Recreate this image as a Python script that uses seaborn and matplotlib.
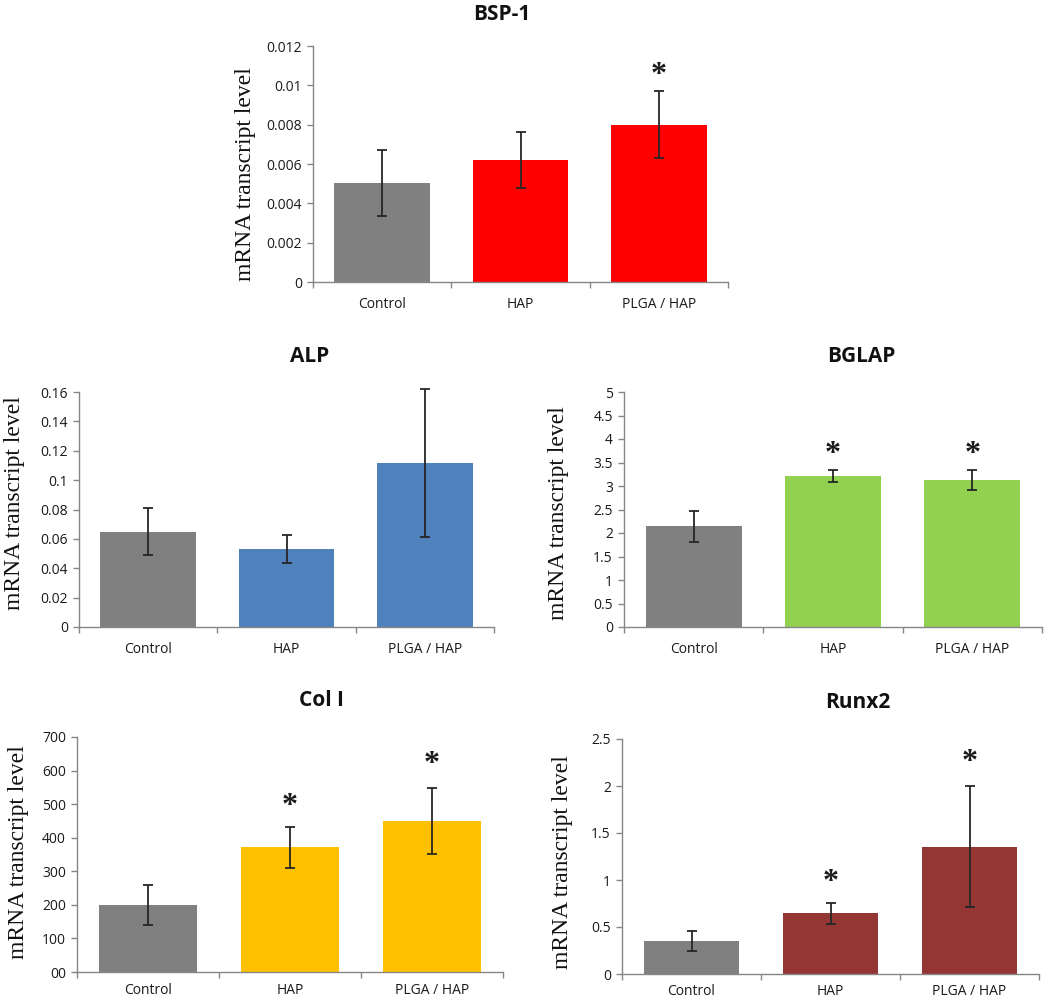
import matplotlib
matplotlib.use("Agg")
import matplotlib.pyplot as plt
import seaborn as sns

# groups on the x axis
categories = ["Control", "HAP", "PLGA / HAP"]

# BSP-1
bsp1_mean = [0.00503, 0.00619, 0.0080]
bsp1_err = [0.00168, 0.00143, 0.00171]
bsp1_stars = [None, None, 0.0108]
bsp1_ticks = [0, 0.002, 0.004, 0.006, 0.008, 0.01, 0.012]
bsp1_ticklabels = ["0", "0.002", "0.004", "0.006", "0.008", "0.01", "0.012"]

# ALP
alp_mean = [0.0647, 0.0533, 0.1117]
alp_err = [0.016, 0.0095, 0.0505]
alp_stars = [None, None, None]
alp_ticks = [0, 0.02, 0.04, 0.06, 0.08, 0.1, 0.12, 0.14, 0.16]
alp_ticklabels = ["0", "0.02", "0.04", "0.06", "0.08", "0.1", "0.12", "0.14", "0.16"]

# BGLAP
bglap_mean = [2.14, 3.206, 3.128]
bglap_err = [0.333, 0.13, 0.21]
bglap_stars = [None, 3.81, 3.81]
bglap_ticks = [0, 0.5, 1, 1.5, 2, 2.5, 3, 3.5, 4, 4.5, 5]
bglap_ticklabels = ["0", "0.5", "1", "1.5", "2", "2.5", "3", "3.5", "4", "4.5", "5"]

# Col I
col1_mean = [199, 372, 450]
col1_err = [59, 61, 99.5]
col1_stars = [None, 512, 636]
col1_ticks = [0, 100, 200, 300, 400, 500, 600, 700]
col1_ticklabels = ["00", "100", "200", "300", "400", "500", "600", "700"]

# Runx2
runx2_mean = [0.352, 0.646, 1.356]
runx2_err = [0.103, 0.11, 0.647]
runx2_stars = [None, 1.037, 2.315]
runx2_ticks = [0, 0.5, 1, 1.5, 2, 2.5]
runx2_ticklabels = ["0", "0.5", "1", "1.5", "2", "2.5"]

GRAY = "#808080"

sns.set_style("white")
plt.rcParams["font.family"] = ["Open Sans", "DejaVu Sans"]

W, H = 1050, 1002
fig = plt.figure(figsize=(W / 100, H / 100), dpi=100)


def px_box(left, top, right, bottom):
    return [left / W, 1 - bottom / H, (right - left) / W, (bottom - top) / H]


# (title, mean, err, stars, ticks, labels, colour, axes box px, title pos px, ylabel center px, x label pad)
panels = [
    ("BSP-1", bsp1_mean, bsp1_err, bsp1_stars, bsp1_ticks, bsp1_ticklabels,
     "#FF0000", (313, 46, 728, 282), (502, 14), (245, 174), 11),
    ("ALP", alp_mean, alp_err, alp_stars, alp_ticks, alp_ticklabels,
     "#4F81BD", (79, 392, 494, 627), (310, 356), (14, 503), 11),
    ("BGLAP", bglap_mean, bglap_err, bglap_stars, bglap_ticks, bglap_ticklabels,
     "#92D050", (624, 392, 1042, 627), (861, 356), (558, 513), 11),
    ("Col I", col1_mean, col1_err, col1_stars, col1_ticks, col1_ticklabels,
     "#FFC000", (77, 737, 503, 972), (321, 701), (18, 852), 8),
    ("Runx2", runx2_mean, runx2_err, runx2_stars, runx2_ticks, runx2_ticklabels,
     "#943634", (622, 739, 1039, 974), (858, 703), (562, 862), 7),
]

for title, mean, err, stars, ticks, labels, colour, box, tpos, ypos, xpad in panels:
    ax = fig.add_axes(px_box(*box))
    sns.barplot(x=categories, y=mean, hue=categories, palette=[GRAY, colour, colour],
                saturation=1, width=0.69, errorbar=None, legend=False,
                linewidth=0, ax=ax)
    xs = [p.get_x() + p.get_width() / 2 for p in ax.patches]
    eb = ax.errorbar(xs, mean, yerr=err, fmt="none", ecolor="#262626",
                     elinewidth=1.3, capsize=3.5, capthick=1.3)
    for art in eb.lines[1] + eb.lines[2]:
        art.set_clip_on(False)

    # significance stars
    for x, s in zip(xs, stars):
        if s is not None:
            ax.annotate("*", (x, s), xytext=(0, -10), textcoords="offset points",
                        ha="center", va="baseline", fontsize=23, fontweight="bold",
                        family="Liberation Serif", color="#1a1a1a")

    ax.set_xlim(-0.5, 2.5)
    ax.set_ylim(ticks[0], ticks[-1])
    ax.set_yticks(ticks)
    ax.set_yticklabels(labels)
    ax.set_xticks([0, 1, 2])
    ax.set_xticklabels(categories)
    ax.set_xticks([-0.5, 0.5, 1.5, 2.5], minor=True)
    ax.tick_params(axis="x", which="major", length=0, pad=xpad, labelsize=10,
                   labelcolor="#1a1a1a")
    ax.tick_params(axis="x", which="minor", length=4, width=1, color="#868686",
                   direction="out", bottom=True)
    ax.tick_params(axis="y", length=4, width=1, color="#868686", direction="out",
                   left=True, pad=4, labelsize=10, labelcolor="#1a1a1a")
    for side in ["top", "right"]:
        ax.spines[side].set_visible(False)
    for side in ["left", "bottom"]:
        ax.spines[side].set_color("#868686")
        ax.spines[side].set_linewidth(1)
    ax.set_xlabel("")

    ax.set_ylabel("mRNA transcript level", family="Liberation Serif", fontsize=17,
                  color="#111111")
    l, t, r, b = box
    ax.yaxis.set_label_coords((ypos[0] + 11 - l) / (r - l), (b - ypos[1]) / (b - t))

    fig.text(tpos[0] / W, 1 - tpos[1] / H, title, ha="center", va="center",
             fontsize=15, fontweight="bold", color="#111111")

fig.savefig("out.png", dpi=100)
